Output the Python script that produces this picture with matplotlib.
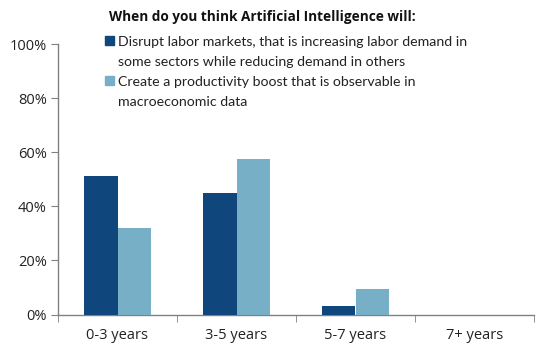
import matplotlib
matplotlib.use("Agg")
import matplotlib.pyplot as plt
import numpy as np
from matplotlib.patches import Rectangle

categories = ["0-3 years", "3-5 years", "5-7 years", "7+ years"]
disrupt = [51.3, 44.9, 3.3, 0.0]
productivity = [32.0, 57.6, 9.6, 0.0]
series_labels = [
    "Disrupt labor markets, that is increasing labor demand in\nsome sectors while reducing demand in others",
    "Create a productivity boost that is observable in\nmacroeconomic data",
]
title = "When do you think Artificial Intelligence will:"
yticks = [0, 20, 40, 60, 80, 100]

c_dark = "#0F477C"
c_light = "#77AFC6"
txt = "#222222"

plt.rcParams['font.family'] = ['Open Sans', 'DejaVu Sans']

fig = plt.figure(figsize=(5.43, 3.55), dpi=100)
ax = fig.add_axes([58/543, 1-314.5/355, (534-58)/543, (314.5-44)/355])

x = np.arange(len(categories))
w = 0.28
ax.bar(x - w/2, disrupt, width=w, color=c_dark, zorder=3)
ax.bar(x + w/2, productivity, width=w, color=c_light, zorder=3)

ax.set_xlim(-0.5, len(categories) - 0.5)
ax.set_ylim(0, 100)
ax.set_yticks(yticks)
ax.set_yticklabels([f"{v}%" for v in yticks], fontsize=10.5, color=txt)
ax.set_xticks(x)
ax.set_xticklabels(categories, fontsize=10.5, color=txt)
ax.set_xticks(np.arange(len(categories) + 1) - 0.5, minor=True)
ax.tick_params(axis='x', which='major', length=0, pad=10)
ax.tick_params(axis='x', which='minor', length=5, color="#808080", direction='out')
ax.tick_params(axis='y', length=5, color="#808080", direction='out', pad=3)

for s in ["top", "right"]:
    ax.spines[s].set_visible(False)
for s in ["left", "bottom"]:
    ax.spines[s].set_color("#808080")
    ax.spines[s].set_linewidth(1.0)

fig.text(262/543, 1-17/355, title, ha='center', va='center', fontsize=9.8,
         fontweight='bold', color="#111111")

# legend (manual)
colors = [c_dark, c_light]
first_baseline = [45.7, 85.7]
for lab, col, yb in zip(series_labels, colors, first_baseline):
    fig.patches.append(Rectangle((105/543, 1-(yb-0.5)/355), 9/543, 9/355,
                                 transform=fig.transFigure, color=col))
    for i, line in enumerate(lab.split("\n")):
        fig.text(118/543, 1-(yb + 20*i)/355, line, ha='left', va='baseline',
                 fontsize=10.2, color=txt, family=['Lato', 'DejaVu Sans'])

fig.savefig("out.png", dpi=100)
